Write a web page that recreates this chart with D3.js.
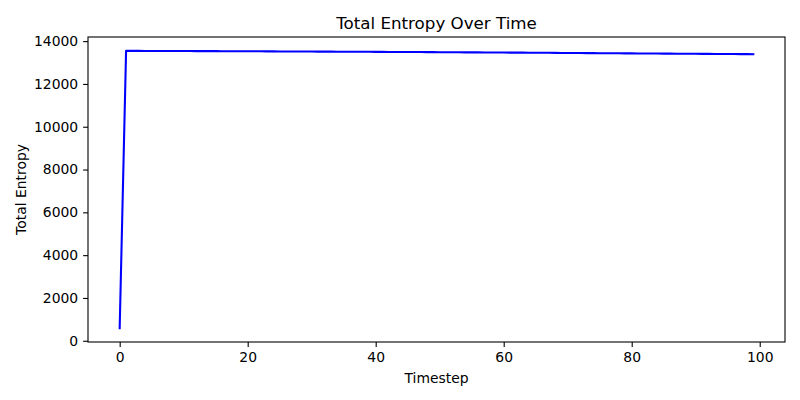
<!DOCTYPE html>
<html><head><meta charset="utf-8">
<script src="https://cdn.jsdelivr.net/npm/d3@7"></script>
<style>body{margin:0;background:#fff}svg{display:block}text{font-family:"DejaVu Sans",sans-serif;fill:#000}</style>
</head><body><svg id="c" width="800" height="400"></svg>
<script>
const timesteps = d3.range(0, 100);
const entropy = [590,
13545,13544,13543,13542,13541,13540,13539,13538,13537,13536,
13535,13534,13533,13532,13531,13530,13528,13527,13526,13525,
13524,13523,13521,13520,13519,13518,13516,13515,13514,13513,
13511,13510,13509,13507,13506,13504,13503,13501,13500,13498,
13497,13495,13494,13492,13491,13489,13488,13486,13485,13483,
13481,13480,13478,13476,13475,13473,13471,13470,13468,13466,
13464,13463,13461,13459,13457,13455,13453,13451,13449,13447,
13445,13443,13441,13439,13437,13435,13433,13431,13429,13427,
13425,13423,13421,13419,13417,13415,13413,13411,13409,13407,
13405,13403,13401,13399,13397,13395,13393,13391,13389];
const xTicks = [0, 20, 40, 60, 80, 100];
const yTicks = [0, 2000, 4000, 6000, 8000, 10000, 12000, 14000];
const title = "Total Entropy Over Time", xLabel = "Timestep", yLabel = "Total Entropy";

const L = 88, R = 785, T = 37, B = 342;
const svg = d3.select("#c");
const xmin = 0, xmax = 99, xm = (xmax - xmin) * 0.05;
const ymin = d3.min(entropy), ymax = d3.max(entropy), ym = (ymax - ymin) * 0.05;
const x = d3.scaleLinear().domain([xmin - xm, xmax + xm]).range([L, R]);
const y = d3.scaleLinear().domain([ymin - ym, ymax + ym]).range([B, T]);

const gx = svg.append("g").attr("transform", `translate(0,${B})`)
  .call(d3.axisBottom(x).tickValues(xTicks).tickSize(4.9).tickPadding(4.9).tickFormat(d3.format("d")));
const gy = svg.append("g").attr("transform", `translate(${L},0)`)
  .call(d3.axisLeft(y).tickValues(yTicks).tickSize(4.9).tickPadding(4.9).tickFormat(d3.format("d")));
[gx, gy].forEach(g => {
  g.select(".domain").remove();
  g.selectAll(".tick line").attr("stroke", "#000").attr("stroke-width", 1.1);
  g.selectAll(".tick text").attr("font-size", "13.9px").attr("font-family", "DejaVu Sans").attr("fill", "#000");
});

const line = d3.line().x((d, i) => x(timesteps[i])).y(d => y(d));
svg.append("path").datum(entropy).attr("d", line).attr("fill", "none")
  .attr("stroke", "#0000ff").attr("stroke-width", 2.08).attr("stroke-linejoin", "round").attr("stroke-linecap", "square");

svg.append("rect").attr("x", L).attr("y", T).attr("width", R - L).attr("height", B - T)
  .attr("fill", "none").attr("stroke", "#000").attr("stroke-width", 1.1);

svg.append("text").attr("x", (L + R) / 2).attr("y", T - 8.3).attr("text-anchor", "middle")
  .attr("font-size", "16.7px").text(title);
svg.append("text").attr("x", (L + R) / 2).attr("y", 383).attr("text-anchor", "middle")
  .attr("font-size", "13.9px").text(xLabel);
svg.append("text").attr("transform", `translate(26,${(T + B) / 2}) rotate(-90)`).attr("text-anchor", "middle")
  .attr("font-size", "13.9px").text(yLabel);
</script></body></html>
